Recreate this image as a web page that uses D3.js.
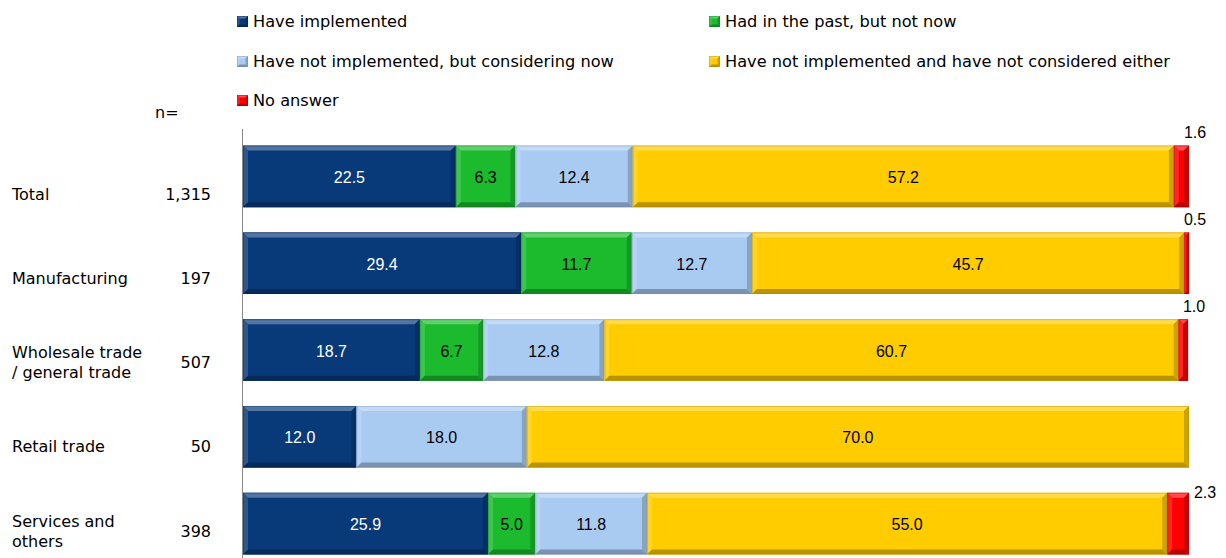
<!DOCTYPE html>
<html>
<head>
<meta charset="utf-8">
<script src="https://cdn.jsdelivr.net/npm/d3@7"></script>
<style>
  html, body { margin: 0; padding: 0; background: #fff; }
  svg { display: block; }
</style>
</head>
<body>
<svg id="chart" width="1226" height="558"></svg>
<script>
// Survey response shares (%) by industry
const categories = ["Total", "Manufacturing", "Wholesale trade\n/ general trade", "Retail trade", "Services and\nothers"];
const sampleSizes = ["1,315", "197", "507", "50", "398"];
const seriesNames = [
  "Have implemented",
  "Had in the past, but not now",
  "Have not implemented, but considering now",
  "Have not implemented and have not considered either",
  "No answer"
];
const haveImplemented   = [22.5, 29.4, 18.7, 12.0, 25.9];
const hadInPast         = [6.3, 11.7, 6.7, 0, 5.0];
const consideringNow    = [12.4, 12.7, 12.8, 18.0, 11.8];
const notConsidered     = [57.2, 45.7, 60.7, 70.0, 55.0];
const noAnswer          = [1.6, 0.5, 1.0, 0, 2.3];
const seriesValues = [haveImplemented, hadInPast, consideringNow, notConsidered, noAnswer];
const seriesColors = ["#083a7a", "#1cbb2e", "#a9cbf2", "#ffcc00", "#ff0000"];
const labelColors  = ["#ffffff", "#000000", "#000000", "#000000", "#000000"];

const svg = d3.select("#chart");
const W = 1226, H = 558;
const x0 = 243, x1 = 1189;

const x = d3.scaleLinear().domain([0, 100]).range([x0, x1]);
const y = d3.scaleBand().domain(d3.range(categories.length)).range([133, 567]).paddingInner(0.29).paddingOuter(0.145);
// row label column sits on its own slightly tighter spacing
const yLabel = d3.scalePoint().domain(d3.range(categories.length)).range([194, 531]);

// stacked rows
const rows = categories.map((c, i) => {
  let acc = 0;
  return seriesValues.map((vals, s) => {
    const v = vals[i];
    const seg = { row: i, s, v, start: acc, end: acc + v };
    acc += v;
    return seg;
  }).filter(d => d.v > 0);
});

// bevelled segment: face plus four sloped edges
function bevel(g, xa, ya, w, h, color, b) {
  const c = d3.color(color);
  const light = d3.interpolateRgb(color, "#ffffff")(0.3);
  const lighter = d3.interpolateRgb(color, "#ffffff")(0.15);
  const dark = c.darker(0.9).formatHex();
  const darker = c.darker(0.6).formatHex();
  const bb = Math.min(b, w / 2, h / 2);
  g.append("rect").attr("x", xa).attr("y", ya).attr("width", w).attr("height", h).attr("fill", color);
  const pts = (arr) => arr.map(p => p.join(",")).join(" ");
  const xb = xa + w, yb = ya + h;
  g.append("polygon").attr("points", pts([[xa, ya], [xb, ya], [xb - bb, ya + bb], [xa + bb, ya + bb]])).attr("fill", light);
  g.append("polygon").attr("points", pts([[xa, ya], [xa + bb, ya + bb], [xa + bb, yb - bb], [xa, yb]])).attr("fill", lighter);
  g.append("polygon").attr("points", pts([[xb, ya], [xb, yb], [xb - bb, yb - bb], [xb - bb, ya + bb]])).attr("fill", darker);
  g.append("polygon").attr("points", pts([[xa, yb], [xa + bb, yb - bb], [xb - bb, yb - bb], [xb, yb]])).attr("fill", dark);
  g.append("rect").attr("x", xa + 0.5).attr("y", ya + 0.5).attr("width", Math.max(0, w - 1)).attr("height", h - 1)
    .attr("fill", "none").attr("stroke", c.darker(1.2).formatHex()).attr("stroke-opacity", 0.35);
}

const bars = svg.append("g");
rows.forEach(segs => {
  segs.forEach(d => {
    const g = bars.append("g");
    bevel(g, x(d.start), y(d.row), x(d.end) - x(d.start), y.bandwidth(), seriesColors[d.s], 5);
  });
});

// value labels
const valueFont = "'Liberation Sans', Arial, sans-serif";
rows.forEach((segs, i) => {
  segs.forEach(d => {
    const cx = (x(d.start) + x(d.end)) / 2;
    const cy = y(d.row) + y.bandwidth() / 2;
    if (d.s === 4) {
      // small "No answer" share: label outside the bar end
      const last = i === categories.length - 1;
      svg.append("text")
        .attr("x", last ? x(d.end) + 16 : x(d.end) + 6)
        .attr("y", last ? y(d.row) : y(d.row) - 13)
        .attr("text-anchor", "middle").attr("dominant-baseline", "central")
        .attr("font-family", valueFont).attr("font-size", 16)
        .attr("fill", "#000").text(d.v.toFixed(1));
    } else {
      svg.append("text")
        .attr("x", cx).attr("y", cy + 1)
        .attr("text-anchor", "middle").attr("dominant-baseline", "central")
        .attr("font-family", valueFont).attr("font-size", 16)
        .attr("fill", labelColors[d.s]).text(d.v.toFixed(1));
    }
  });
});

// category axis line
svg.append("line").attr("x1", x0 - 0.5).attr("x2", x0 - 0.5).attr("y1", 129).attr("y2", H)
  .attr("stroke", "#888").attr("stroke-width", 1);

// category and n labels
const labelFont = "'DejaVu Sans', Verdana, sans-serif";
categories.forEach((c, i) => {
  const lines = c.split("\n");
  const cy = yLabel(i);
  const lh = 20;
  const t = svg.append("text").attr("font-family", labelFont).attr("font-size", 16).attr("fill", "#000");
  lines.forEach((ln, k) => {
    t.append("tspan").attr("x", 12).attr("y", cy + (k - (lines.length - 1) / 2) * lh)
      .attr("dominant-baseline", "central").text(ln);
  });
  svg.append("text").attr("x", 211).attr("y", cy).attr("text-anchor", "end")
    .attr("dominant-baseline", "central")
    .attr("font-family", labelFont).attr("font-size", 16).text(sampleSizes[i]);
});
svg.append("text").attr("x", 155).attr("y", 112).attr("dominant-baseline", "central")
  .attr("font-family", labelFont).attr("font-size", 16).text("n=");

// legend
const legendPos = [[237, 21], [709, 21], [237, 61], [709, 61], [237, 100]];
seriesNames.forEach((name, s) => {
  const [lx, ly] = legendPos[s];
  const g = svg.append("g");
  bevel(g, lx, ly - 5, 11, 11, seriesColors[s], 2.5);
  svg.append("text").attr("x", lx + 16).attr("y", ly).attr("dominant-baseline", "central")
    .attr("font-family", labelFont).attr("font-size", 16.2).attr("fill", "#000").text(name);
});
</script>
</body>
</html>
